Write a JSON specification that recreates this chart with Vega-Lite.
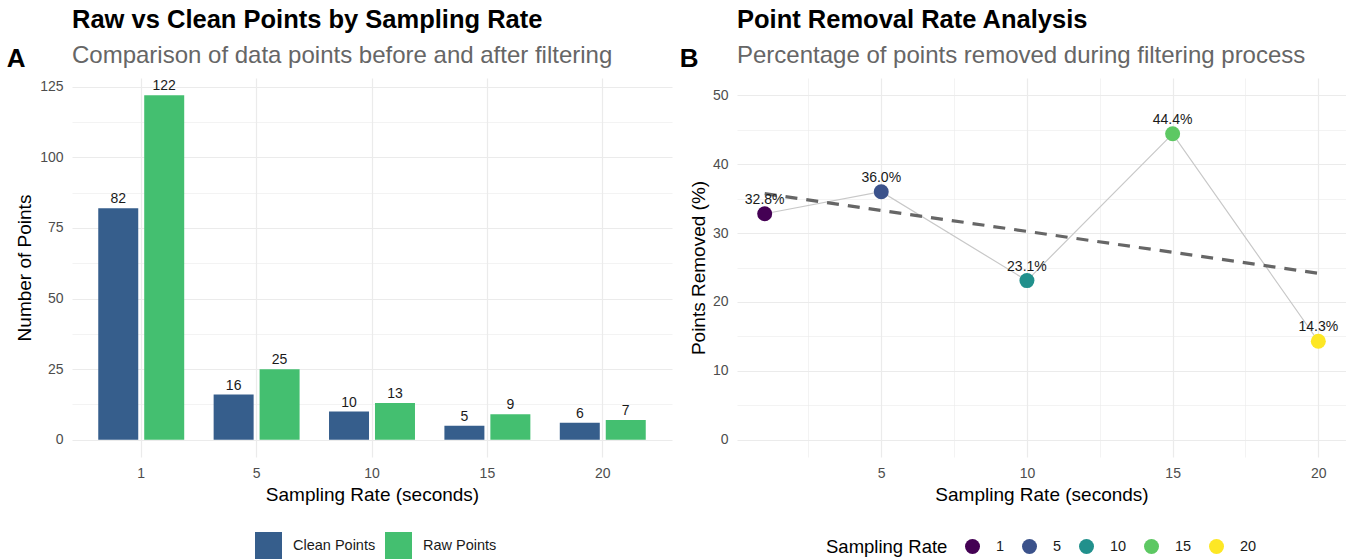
{
  "$schema": "https://vega.github.io/schema/vega-lite/v6.json",
  "padding": {"left": 6, "top": 7, "right": 0, "bottom": 0},
  "background": "white",
  "spacing": 7,
  "config": {
    "view": {"stroke": null},
    "font": "Liberation Sans",
    "axis": {
      "domain": false,
      "ticks": false,
      "gridColor": "#EBEBEB",
      "labelColor": "#4D4D4D",
      "labelFontSize": 14,
      "labelPadding": 9,
      "titleFontSize": 19,
      "titleFontWeight": "normal",
      "titleColor": "#000000"
    },
    "legend": {
      "labelFontSize": 14.5,
      "labelColor": "#1A1A1A",
      "titleFontSize": 18.5,
      "titleFontWeight": "normal",
      "titleColor": "#000000",
      "padding": 0
    }
  },
  "resolve": {"scale": {"color": "independent"}},
  "hconcat": [
    {
      "title": {"text": "A", "orient": "left", "angle": 0, "anchor": "end", "align": "left", "baseline": "top", "fontSize": 26, "fontWeight": "bold", "color": "#000000", "offset": -10, "dy": 38},
      "vconcat": [
        {
          "width": 600,
          "height": 379,
          "title": {
            "text": "Raw vs Clean Points by Sampling Rate",
            "subtitle": "Comparison of data points before and after filtering",
            "anchor": "start",
            "frame": "group",
            "fontSize": 25.5,
            "fontWeight": "bold",
            "color": "#000000",
            "subtitleFontSize": 24,
            "subtitleColor": "#666666",
            "subtitlePadding": 11,
            "offset": 10
          },
          "data": {
            "values": [
              {"rate": "1", "type": "Clean Points", "count": 82},
              {"rate": "1", "type": "Raw Points", "count": 122},
              {"rate": "5", "type": "Clean Points", "count": 16},
              {"rate": "5", "type": "Raw Points", "count": 25},
              {"rate": "10", "type": "Clean Points", "count": 10},
              {"rate": "10", "type": "Raw Points", "count": 13},
              {"rate": "15", "type": "Clean Points", "count": 5},
              {"rate": "15", "type": "Raw Points", "count": 9},
              {"rate": "20", "type": "Clean Points", "count": 6},
              {"rate": "20", "type": "Raw Points", "count": 7}
            ]
          },
          "encoding": {
            "x": {
              "field": "rate",
              "type": "ordinal",
              "sort": ["1", "5", "10", "15", "20"],
              "scale": {"paddingInner": 0.255, "paddingOuter": 0.2275},
              "axis": {"labelAngle": 0, "bandPosition": 0.5, "grid": true, "gridWidth": 1.2, "title": "Sampling Rate (seconds)", "titlePadding": 5}
            },
            "xOffset": {
              "field": "type",
              "type": "nominal",
              "scale": {"domain": ["Clean Points", "Raw Points"], "paddingInner": 0.13, "paddingOuter": 0}
            },
            "y": {
              "field": "count",
              "type": "quantitative",
              "scale": {"domain": [-6.1, 128.1], "nice": false, "zero": false},
              "axis": {
                "values": [0, 12.5, 25, 37.5, 50, 62.5, 75, 87.5, 100, 112.5, 125],
                "labelExpr": "datum.value % 25 == 0 ? format(datum.value, 'd') : ''",
                "gridWidth": {"condition": {"test": "datum.value % 25 == 0", "value": 1.2}, "value": 0.6},
                "title": "Number of Points",
                "titlePadding": 5
              }
            }
          },
          "layer": [
            {
              "mark": {"type": "bar"},
              "encoding": {
                "y2": {"datum": 0},
                "color": {
                  "field": "type",
                  "type": "nominal",
                  "scale": {"domain": ["Clean Points", "Raw Points"], "range": ["#365E8C", "#44BF70"]},
                  "legend": {"orient": "none", "legendX": 183, "legendY": 454, "direction": "horizontal", "title": null, "symbolType": "square", "symbolSize": 729, "symbolStrokeWidth": 0, "labelOffset": 11, "columnPadding": 9}
                }
              }
            },
            {
              "mark": {"type": "text", "baseline": "bottom", "dy": -2, "fontSize": 14, "color": "#1A1A1A"},
              "encoding": {"text": {"field": "count", "type": "quantitative"}}
            }
          ]
        }
      ]
    },
    {
      "title": {"text": "B", "orient": "left", "angle": 0, "anchor": "end", "align": "left", "baseline": "top", "fontSize": 26, "fontWeight": "bold", "color": "#000000", "offset": -9, "dy": 38},
      "vconcat": [
        {
          "width": 609,
          "height": 379,
          "title": {
            "text": "Point Removal Rate Analysis",
            "subtitle": "Percentage of points removed during filtering process",
            "anchor": "start",
            "frame": "group",
            "fontSize": 25.5,
            "fontWeight": "bold",
            "color": "#000000",
            "subtitleFontSize": 24,
            "subtitleColor": "#666666",
            "subtitlePadding": 11,
            "offset": 10
          },
          "data": {
            "values": [
              {"rate": 1, "pct": 32.8, "label": "32.8%"},
              {"rate": 5, "pct": 36.0, "label": "36.0%"},
              {"rate": 10, "pct": 23.1, "label": "23.1%"},
              {"rate": 15, "pct": 44.4, "label": "44.4%"},
              {"rate": 20, "pct": 14.3, "label": "14.3%"}
            ]
          },
          "encoding": {
            "x": {
              "field": "rate",
              "type": "quantitative",
              "scale": {"domain": [0.05, 20.95], "nice": false, "zero": false},
              "axis": {
                "values": [2.5, 5, 7.5, 10, 12.5, 15, 17.5, 20],
                "labelExpr": "datum.value % 5 == 0 ? format(datum.value, 'd') : ''",
                "gridWidth": {"condition": {"test": "datum.value % 5 == 0", "value": 1.2}, "value": 0.6},
                "title": "Sampling Rate (seconds)",
                "titlePadding": 5
              }
            },
            "y": {
              "field": "pct",
              "type": "quantitative",
              "scale": {"domain": [-2.5, 52.5], "nice": false, "zero": false},
              "axis": {
                "values": [0, 5, 10, 15, 20, 25, 30, 35, 40, 45, 50],
                "labelExpr": "datum.value % 10 == 0 ? format(datum.value, 'd') : ''",
                "gridWidth": {"condition": {"test": "datum.value % 10 == 0", "value": 1.2}, "value": 0.6},
                "title": "Points Removed (%)",
                "titlePadding": 4
              }
            }
          },
          "layer": [
            {
              "mark": {"type": "line", "color": "#C8C8C8", "strokeWidth": 1.2}
            },
            {
              "transform": [{"regression": "pct", "on": "rate"}],
              "mark": {"type": "line", "color": "#666666", "strokeWidth": 3.2, "strokeDash": [12, 9]}
            },
            {
              "mark": {"type": "circle", "size": 225, "opacity": 1},
              "encoding": {
                "color": {
                  "field": "rate",
                  "type": "ordinal",
                  "scale": {"range": ["#440154", "#3B528B", "#21908C", "#5DC863", "#FDE725"]},
                  "legend": {"orient": "none", "legendX": 89, "legendY": 461, "direction": "horizontal", "title": "Sampling Rate", "titleOrient": "left", "titlePadding": 17, "symbolType": "circle", "symbolSize": 225, "symbolStrokeWidth": 0, "labelOffset": 16, "columnPadding": 17}
                }
              }
            },
            {
              "mark": {"type": "text", "baseline": "middle", "dy": -14, "fontSize": 14, "color": "#1A1A1A"},
              "encoding": {"text": {"field": "label", "type": "nominal"}}
            }
          ]
        }
      ]
    }
  ]
}
